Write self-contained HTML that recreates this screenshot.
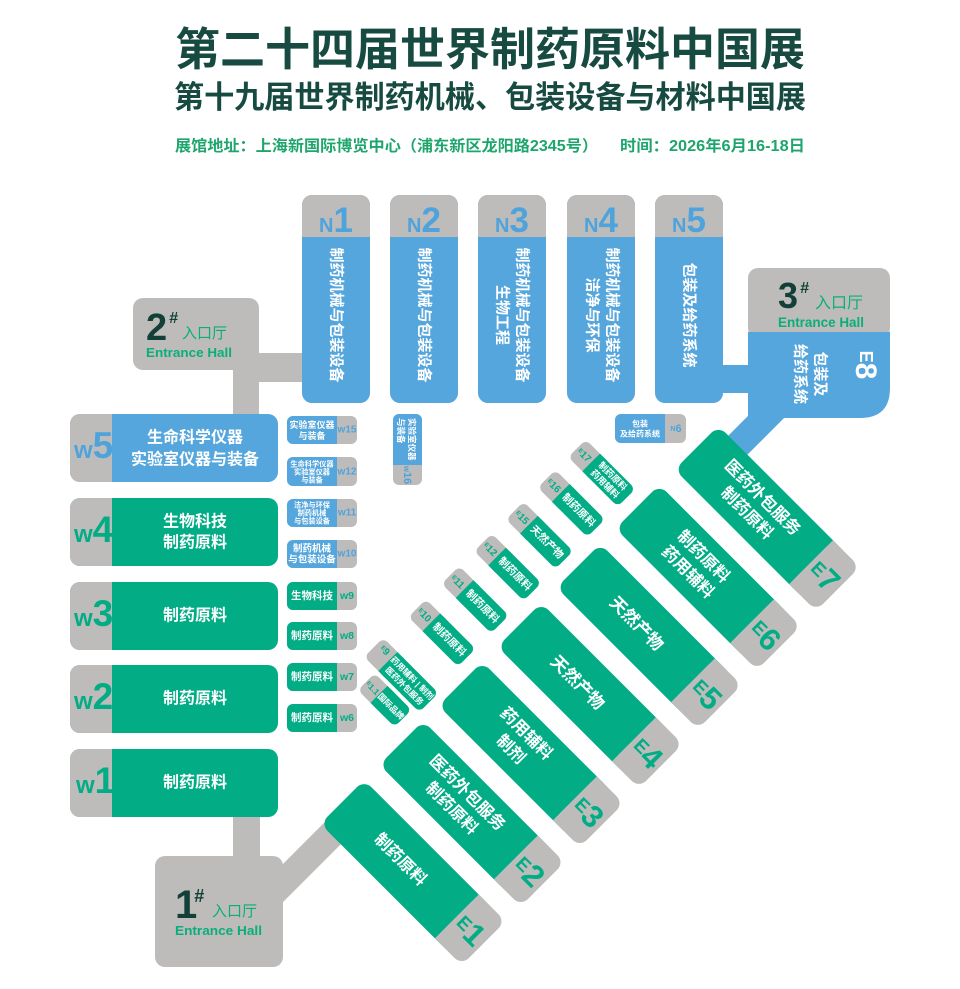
<!DOCTYPE html>
<html><head><meta charset="utf-8">
<style>
html,body{margin:0;padding:0;background:#fff;}
svg{display:block;}
text{font-family:"Liberation Sans","Noto Sans CJK SC",sans-serif;}
.w{fill:#fff;font-weight:bold;}
.c{text-anchor:middle;dominant-baseline:central;}
</style></head><body>
<svg width="960" height="989" viewBox="0 0 960 989" xmlns="http://www.w3.org/2000/svg">
<rect width="960" height="989" fill="#fff"/>

<!-- Titles -->
<text x="175" y="65" font-size="45" font-weight="bold" fill="#174a40" textLength="630" lengthAdjust="spacingAndGlyphs">第二十四届世界制药原料中国展</text>
<text x="174" y="108" font-size="31" font-weight="bold" fill="#174a40" textLength="632" lengthAdjust="spacingAndGlyphs">第十九届世界制药机械、包装设备与材料中国展</text>
<text x="175" y="151" font-size="15.5" font-weight="bold" fill="#1ea56c" textLength="423" lengthAdjust="spacingAndGlyphs">展馆地址：上海新国际博览中心（浦东新区龙阳路2345号）</text>
<text x="620" y="151" font-size="15.5" font-weight="bold" fill="#1ea56c" textLength="185" lengthAdjust="spacingAndGlyphs">时间：2026年6月16-18日</text>

<!-- 2# entrance -->
<rect x="133" y="298" width="126" height="72" rx="10" fill="#bdbcba"/>
<rect x="250" y="353" width="56" height="29" fill="#bdbcba"/>
<rect x="233" y="360" width="26" height="58" fill="#bdbcba"/>
<text x="146" y="340" font-size="38" font-weight="bold" fill="#123f37">2</text>
<text x="169" y="323" font-size="16" font-weight="bold" font-style="italic" fill="#123f37">#</text>
<text x="182" y="338" font-size="15" fill="#0aae7a">入口厅</text>
<text x="146" y="357" font-size="13" font-weight="bold" fill="#0aae7a" textLength="86" lengthAdjust="spacingAndGlyphs">Entrance Hall</text>

<!-- 1# entrance -->
<rect x="233" y="810" width="27" height="52" fill="#bdbcba"/>
<g transform="rotate(45)"><rect x="811" y="345" width="27" height="95" fill="#bdbcba"/></g>
<rect x="155" y="856" width="128" height="111" rx="10" fill="#bdbcba"/>
<text x="175" y="918" font-size="40" font-weight="bold" fill="#123f37">1</text>
<text x="194" y="902" font-size="18" font-weight="bold" font-style="italic" fill="#123f37">#</text>
<text x="212" y="916" font-size="15" fill="#0aae7a">入口厅</text>
<text x="175" y="935" font-size="13" font-weight="bold" fill="#0aae7a" textLength="87" lengthAdjust="spacingAndGlyphs">Entrance Hall</text>

<!-- 3# entrance / E8 -->
<rect x="718" y="365" width="34" height="28" fill="#55a6dd"/>
<g transform="rotate(45)"><rect x="823" y="-280" width="27" height="85" fill="#55a6dd"/></g>
<rect x="748" y="268" width="142" height="70" rx="10" fill="#bdbcba"/>
<path d="M748,332 H890 V388 Q890,418 860,418 H748 Z" fill="#55a6dd"/>
<text x="778" y="308" font-size="36" font-weight="bold" fill="#123f37">3</text>
<text x="800" y="293" font-size="16" font-weight="bold" font-style="italic" fill="#123f37">#</text>
<text x="815" y="308" font-size="16" fill="#0aae7a">入口厅</text>
<text x="778" y="327" font-size="14" font-weight="bold" fill="#0aae7a" textLength="86" lengthAdjust="spacingAndGlyphs">Entrance Hall</text>
<g transform="rotate(90 866 365)"><text x="866" y="365" class="w c"><tspan font-size="18">E</tspan><tspan font-size="30">8</tspan></text></g>
<g transform="rotate(90 810 374)" font-size="15" class="w"><text x="810" y="364" class="w c">包装及</text><text x="810" y="384" class="w c">给药系统</text></g>

<!-- N halls -->
<g>
<rect x="302" y="195" width="68" height="208" rx="10" fill="#55a6dd"/><rect x="302" y="195" width="68" height="42" rx="10" fill="#bdbcba"/><rect x="302" y="225" width="68" height="12" fill="#bdbcba"/>
<text x="336" y="232" text-anchor="middle" font-weight="bold" fill="#4fa3dc"><tspan font-size="20">N</tspan><tspan font-size="35">1</tspan></text>
<text transform="rotate(90 336 315)" x="336" y="315" font-size="15" class="w c">制药机械与包装设备</text>

<rect x="390" y="195" width="68" height="208" rx="10" fill="#55a6dd"/><rect x="390" y="195" width="68" height="42" rx="10" fill="#bdbcba"/><rect x="390" y="225" width="68" height="12" fill="#bdbcba"/>
<text x="424" y="232" text-anchor="middle" font-weight="bold" fill="#4fa3dc"><tspan font-size="20">N</tspan><tspan font-size="35">2</tspan></text>
<text transform="rotate(90 424 315)" x="424" y="315" font-size="15" class="w c">制药机械与包装设备</text>

<rect x="478" y="195" width="68" height="208" rx="10" fill="#55a6dd"/><rect x="478" y="195" width="68" height="42" rx="10" fill="#bdbcba"/><rect x="478" y="225" width="68" height="12" fill="#bdbcba"/>
<text x="512" y="232" text-anchor="middle" font-weight="bold" fill="#4fa3dc"><tspan font-size="20">N</tspan><tspan font-size="35">3</tspan></text>
<g transform="rotate(90 512 315)"><text x="512" y="305" font-size="15" class="w c">制药机械与包装设备</text><text x="512" y="325" font-size="15" class="w c">生物工程</text></g>

<rect x="567" y="195" width="68" height="208" rx="10" fill="#55a6dd"/><rect x="567" y="195" width="68" height="42" rx="10" fill="#bdbcba"/><rect x="567" y="225" width="68" height="12" fill="#bdbcba"/>
<text x="601" y="232" text-anchor="middle" font-weight="bold" fill="#4fa3dc"><tspan font-size="20">N</tspan><tspan font-size="35">4</tspan></text>
<g transform="rotate(90 602 315)"><text x="602" y="305" font-size="15" class="w c">制药机械与包装设备</text><text x="602" y="325" font-size="15" class="w c">洁净与环保</text></g>

<rect x="655" y="195" width="68" height="208" rx="10" fill="#55a6dd"/><rect x="655" y="195" width="68" height="42" rx="10" fill="#bdbcba"/><rect x="655" y="225" width="68" height="12" fill="#bdbcba"/>
<text x="689" y="232" text-anchor="middle" font-weight="bold" fill="#4fa3dc"><tspan font-size="20">N</tspan><tspan font-size="35">5</tspan></text>
<text transform="rotate(90 689 315)" x="689" y="315" font-size="15" class="w c">包装及给药系统</text>
</g>

<!-- N6 -->
<rect x="615" y="414" width="71" height="29" rx="6" fill="#bdbcba"/>
<rect x="615" y="414" width="50" height="29" rx="6" fill="#55a6dd"/><rect x="655" y="414" width="10" height="29" fill="#55a6dd"/>
<text x="640" y="424" font-size="8" class="w c">包装</text>
<text x="640" y="434" font-size="8" class="w c">及给药系统</text>
<text x="676" y="429" font-weight="bold" fill="#4fa3dc" class="c"><tspan font-size="7">N</tspan><tspan font-size="11">6</tspan></text>

<!-- W16 -->
<rect x="393" y="414" width="29" height="71" rx="6" fill="#bdbcba"/>
<rect x="393" y="414" width="29" height="51" rx="6" fill="#55a6dd"/><rect x="393" y="455" width="29" height="10" fill="#55a6dd"/>
<g transform="rotate(90 407 418)"><text x="407" y="413" font-size="8.5" class="w" dominant-baseline="central">实验室仪器</text><text x="407" y="424" font-size="8.5" class="w" dominant-baseline="central">与装备</text></g>
<text transform="rotate(90 407 475)" x="407" y="475" font-weight="bold" fill="#4fa3dc" class="c"><tspan font-size="8">w</tspan><tspan font-size="11">16</tspan></text>

<!-- W big halls -->
<g>
<rect x="70" y="414" width="208" height="68" rx="10" fill="#55a6dd"/><rect x="70" y="414" width="42" height="68" rx="10" fill="#bdbcba"/><rect x="100" y="414" width="12" height="68" fill="#bdbcba"/>
<text x="74" y="458" font-weight="bold" fill="#4fa3dc"><tspan font-size="24">w</tspan><tspan font-size="37">5</tspan></text>
<text x="195" y="438" font-size="16" class="w c">生命科学仪器</text><text x="195" y="460" font-size="16" class="w c">实验室仪器与装备</text>

<rect x="70" y="498" width="208" height="68" rx="10" fill="#02ad86"/><rect x="70" y="498" width="42" height="68" rx="10" fill="#bdbcba"/><rect x="100" y="498" width="12" height="68" fill="#bdbcba"/>
<text x="74" y="542" font-weight="bold" fill="#02ad86"><tspan font-size="24">w</tspan><tspan font-size="37">4</tspan></text>
<text x="195" y="522" font-size="16" class="w c">生物科技</text><text x="195" y="543" font-size="16" class="w c">制药原料</text>

<rect x="70" y="582" width="208" height="68" rx="10" fill="#02ad86"/><rect x="70" y="582" width="42" height="68" rx="10" fill="#bdbcba"/><rect x="100" y="582" width="12" height="68" fill="#bdbcba"/>
<text x="74" y="626" font-weight="bold" fill="#02ad86"><tspan font-size="24">w</tspan><tspan font-size="37">3</tspan></text>
<text x="195" y="616" font-size="16" class="w c">制药原料</text>

<rect x="70" y="665" width="208" height="68" rx="10" fill="#02ad86"/><rect x="70" y="665" width="42" height="68" rx="10" fill="#bdbcba"/><rect x="100" y="665" width="12" height="68" fill="#bdbcba"/>
<text x="74" y="709" font-weight="bold" fill="#02ad86"><tspan font-size="24">w</tspan><tspan font-size="37">2</tspan></text>
<text x="195" y="699" font-size="16" class="w c">制药原料</text>

<rect x="70" y="749" width="208" height="68" rx="10" fill="#02ad86"/><rect x="70" y="749" width="42" height="68" rx="10" fill="#bdbcba"/><rect x="100" y="749" width="12" height="68" fill="#bdbcba"/>
<text x="76" y="793" font-weight="bold" fill="#02ad86"><tspan font-size="24">w</tspan><tspan font-size="37">1</tspan></text>
<text x="195" y="783" font-size="16" class="w c">制药原料</text>
</g>

<!-- W small halls -->
<g>
<rect x="287" y="416" width="70" height="28" rx="6" fill="#bdbcba"/><rect x="287" y="416" width="50" height="28" rx="6" fill="#55a6dd"/><rect x="327" y="416" width="10" height="28" fill="#55a6dd"/>
<text x="312" y="425" font-size="9" class="w c">实验室仪器</text><text x="312" y="436" font-size="9" class="w c">与装备</text>
<text x="347" y="430" font-size="10" font-weight="bold" fill="#4fa3dc" class="c">w15</text>

<rect x="287" y="457" width="70" height="29" rx="6" fill="#bdbcba"/><rect x="287" y="457" width="50" height="29" rx="6" fill="#55a6dd"/><rect x="327" y="457" width="10" height="29" fill="#55a6dd"/>
<text x="312" y="464" font-size="7.2" class="w c">生命科学仪器</text><text x="312" y="472" font-size="7.2" class="w c">实验室仪器</text><text x="312" y="480" font-size="7.2" class="w c">与装备</text>
<text x="347" y="472" font-size="10" font-weight="bold" fill="#4fa3dc" class="c">w12</text>

<rect x="287" y="499" width="70" height="28" rx="6" fill="#bdbcba"/><rect x="287" y="499" width="50" height="28" rx="6" fill="#55a6dd"/><rect x="327" y="499" width="10" height="28" fill="#55a6dd"/>
<text x="312" y="505" font-size="7.2" class="w c">洁净与环保</text><text x="312" y="513" font-size="7.2" class="w c">制药机械</text><text x="312" y="521" font-size="7.2" class="w c">与包装设备</text>
<text x="347" y="513" font-size="10" font-weight="bold" fill="#4fa3dc" class="c">w11</text>

<rect x="287" y="540" width="70" height="28" rx="6" fill="#bdbcba"/><rect x="287" y="540" width="50" height="28" rx="6" fill="#55a6dd"/><rect x="327" y="540" width="10" height="28" fill="#55a6dd"/>
<text x="312" y="549" font-size="9.5" class="w c">制药机械</text><text x="312" y="560" font-size="9.5" class="w c">与包装设备</text>
<text x="347" y="554" font-size="10" font-weight="bold" fill="#4fa3dc" class="c">w10</text>

<rect x="287" y="582" width="70" height="28" rx="6" fill="#bdbcba"/><rect x="287" y="582" width="50" height="28" rx="6" fill="#02ad86"/><rect x="327" y="582" width="10" height="28" fill="#02ad86"/>
<text x="312" y="596" font-size="10.5" class="w c">生物科技</text>
<text x="347" y="596" font-size="10.5" font-weight="bold" fill="#02ad86" class="c">w9</text>

<rect x="287" y="622" width="70" height="28" rx="6" fill="#bdbcba"/><rect x="287" y="622" width="50" height="28" rx="6" fill="#02ad86"/><rect x="327" y="622" width="10" height="28" fill="#02ad86"/>
<text x="312" y="636" font-size="10.5" class="w c">制药原料</text>
<text x="347" y="636" font-size="10.5" font-weight="bold" fill="#02ad86" class="c">w8</text>

<rect x="287" y="663" width="70" height="28" rx="6" fill="#bdbcba"/><rect x="287" y="663" width="50" height="28" rx="6" fill="#02ad86"/><rect x="327" y="663" width="10" height="28" fill="#02ad86"/>
<text x="312" y="677" font-size="10.5" class="w c">制药原料</text>
<text x="347" y="677" font-size="10.5" font-weight="bold" fill="#02ad86" class="c">w7</text>

<rect x="287" y="704" width="70" height="28" rx="6" fill="#bdbcba"/><rect x="287" y="704" width="50" height="28" rx="6" fill="#02ad86"/><rect x="327" y="704" width="10" height="28" fill="#02ad86"/>
<text x="312" y="718" font-size="10.5" class="w c">制药原料</text>
<text x="347" y="718" font-size="10.5" font-weight="bold" fill="#02ad86" class="c">w6</text>
</g>

<!-- Rotated E halls -->
<g transform="rotate(45)">
  <g>
  <rect x="809" y="294" width="180" height="62" rx="10" fill="#02ad86"/><rect x="971" y="294" width="38" height="62" rx="10" fill="#bdbcba"/><rect x="971" y="294" width="15" height="62" fill="#bdbcba"/>
  <text x="990" y="325" font-weight="bold" fill="#02ad86" class="c"><tspan font-size="19">E</tspan><tspan font-size="31">1</tspan></text>
  <text x="891" y="325" font-size="16.5" class="w c">制药原料</text>

  <rect x="809" y="210.5" width="180" height="62" rx="10" fill="#02ad86"/><rect x="971" y="210.5" width="38" height="62" rx="10" fill="#bdbcba"/><rect x="971" y="210.5" width="15" height="62" fill="#bdbcba"/>
  <text x="990" y="241.5" font-weight="bold" fill="#02ad86" class="c"><tspan font-size="19">E</tspan><tspan font-size="31">2</tspan></text>
  <text x="891" y="230.5" font-size="16.5" class="w c">医药外包服务</text><text x="891" y="252.5" font-size="16.5" class="w c">制药原料</text>

  <rect x="809" y="127" width="180" height="62" rx="10" fill="#02ad86"/><rect x="971" y="127" width="38" height="62" rx="10" fill="#bdbcba"/><rect x="971" y="127" width="15" height="62" fill="#bdbcba"/>
  <text x="990" y="158" font-weight="bold" fill="#02ad86" class="c"><tspan font-size="19">E</tspan><tspan font-size="31">3</tspan></text>
  <text x="891" y="147" font-size="16.5" class="w c">药用辅料</text><text x="891" y="169" font-size="16.5" class="w c">制剂</text>

  <rect x="809" y="43.5" width="180" height="62" rx="10" fill="#02ad86"/><rect x="971" y="43.5" width="38" height="62" rx="10" fill="#bdbcba"/><rect x="971" y="43.5" width="15" height="62" fill="#bdbcba"/>
  <text x="990" y="74.5" font-weight="bold" fill="#02ad86" class="c"><tspan font-size="19">E</tspan><tspan font-size="31">4</tspan></text>
  <text x="891" y="74.5" font-size="17" class="w c">天然产物</text>

  <rect x="809" y="-40" width="180" height="62" rx="10" fill="#02ad86"/><rect x="971" y="-40" width="38" height="62" rx="10" fill="#bdbcba"/><rect x="971" y="-40" width="15" height="62" fill="#bdbcba"/>
  <text x="990" y="-9" font-weight="bold" fill="#02ad86" class="c"><tspan font-size="19">E</tspan><tspan font-size="31">5</tspan></text>
  <text x="891" y="-9" font-size="17" class="w c">天然产物</text>

  <rect x="809" y="-123.5" width="180" height="62" rx="10" fill="#02ad86"/><rect x="971" y="-123.5" width="38" height="62" rx="10" fill="#bdbcba"/><rect x="971" y="-123.5" width="15" height="62" fill="#bdbcba"/>
  <text x="990" y="-92.5" font-weight="bold" fill="#02ad86" class="c"><tspan font-size="19">E</tspan><tspan font-size="31">6</tspan></text>
  <text x="891" y="-103.5" font-size="16.5" class="w c">制药原料</text><text x="891" y="-81.5" font-size="16.5" class="w c">药用辅料</text>

  <rect x="809" y="-207" width="180" height="62" rx="10" fill="#02ad86"/><rect x="971" y="-207" width="38" height="62" rx="10" fill="#bdbcba"/><rect x="971" y="-207" width="15" height="62" fill="#bdbcba"/>
  <text x="990" y="-176" font-weight="bold" fill="#02ad86" class="c"><tspan font-size="19">E</tspan><tspan font-size="31">7</tspan></text>
  <text x="891" y="-187" font-size="16.5" class="w c">医药外包服务</text><text x="891" y="-165" font-size="16.5" class="w c">制药原料</text>
  </g>

  <g>
  <rect x="725" y="-103.5" width="70" height="25" rx="6" fill="#bdbcba"/><rect x="745" y="-103.5" width="50" height="25" rx="6" fill="#02ad86"/><rect x="745" y="-103.5" width="10" height="25" fill="#02ad86"/>
  <text x="735" y="-91" font-weight="bold" fill="#02ad86" class="c"><tspan font-size="6">E</tspan><tspan font-size="10">17</tspan></text>
  <text x="770" y="-96.5" font-size="9" class="w c">制药原料</text><text x="770" y="-85.5" font-size="9" class="w c">药用辅料</text>

  <rect x="725" y="-60.5" width="70" height="25" rx="6" fill="#bdbcba"/><rect x="745" y="-60.5" width="50" height="25" rx="6" fill="#02ad86"/><rect x="745" y="-60.5" width="10" height="25" fill="#02ad86"/>
  <text x="735" y="-48" font-weight="bold" fill="#02ad86" class="c"><tspan font-size="6">E</tspan><tspan font-size="10">16</tspan></text>
  <text x="770" y="-48" font-size="10.5" class="w c">制药原料</text>

  <rect x="725" y="-15.5" width="70" height="25" rx="6" fill="#bdbcba"/><rect x="745" y="-15.5" width="50" height="25" rx="6" fill="#02ad86"/><rect x="745" y="-15.5" width="10" height="25" fill="#02ad86"/>
  <text x="735" y="-3" font-weight="bold" fill="#02ad86" class="c"><tspan font-size="6">E</tspan><tspan font-size="10">15</tspan></text>
  <text x="770" y="-3" font-size="10.5" class="w c">天然产物</text>

  <rect x="725" y="29.5" width="70" height="25" rx="6" fill="#bdbcba"/><rect x="745" y="29.5" width="50" height="25" rx="6" fill="#02ad86"/><rect x="745" y="29.5" width="10" height="25" fill="#02ad86"/>
  <text x="735" y="42" font-weight="bold" fill="#02ad86" class="c"><tspan font-size="6">E</tspan><tspan font-size="10">12</tspan></text>
  <text x="770" y="42" font-size="10.5" class="w c">制药原料</text>

  <rect x="725" y="75.5" width="70" height="25" rx="6" fill="#bdbcba"/><rect x="745" y="75.5" width="50" height="25" rx="6" fill="#02ad86"/><rect x="745" y="75.5" width="10" height="25" fill="#02ad86"/>
  <text x="735" y="88" font-weight="bold" fill="#02ad86" class="c"><tspan font-size="6">E</tspan><tspan font-size="10">11</tspan></text>
  <text x="770" y="88" font-size="10.5" class="w c">制药原料</text>

  <rect x="725" y="122.5" width="70" height="25" rx="6" fill="#bdbcba"/><rect x="745" y="122.5" width="50" height="25" rx="6" fill="#02ad86"/><rect x="745" y="122.5" width="10" height="25" fill="#02ad86"/>
  <text x="735" y="135" font-weight="bold" fill="#02ad86" class="c"><tspan font-size="6">E</tspan><tspan font-size="10">10</tspan></text>
  <text x="770" y="135" font-size="10.5" class="w c">制药原料</text>

  <rect x="722" y="180" width="78" height="27" rx="6" fill="#bdbcba"/><rect x="742" y="180" width="58" height="27" rx="6" fill="#02ad86"/><rect x="742" y="180" width="10" height="27" fill="#02ad86"/>
  <text x="732" y="188" font-weight="bold" fill="#02ad86" class="c"><tspan font-size="6">E</tspan><tspan font-size="10">9</tspan></text>
  <text x="771" y="188" font-size="8.3" class="w c">药用辅料 | 制剂</text><text x="771" y="199" font-size="8.3" class="w c">医药外包服务</text>

  <rect x="741" y="211" width="52" height="24" rx="6" fill="#bdbcba"/><rect x="759" y="211" width="34" height="24" rx="6" fill="#02ad86"/><rect x="759" y="211" width="10" height="24" fill="#02ad86"/>
  <text x="750" y="223" font-weight="bold" fill="#02ad86" class="c"><tspan font-size="5.5">E</tspan><tspan font-size="8.5">1.1</tspan></text>
  <text x="776" y="223" font-size="8.3" class="w c">国际品牌</text>
  </g>
</g>
</svg>
</body></html>
